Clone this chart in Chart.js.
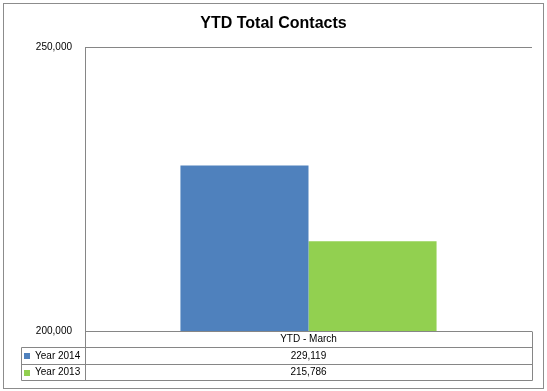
<!DOCTYPE html>
<html>
<head>
<meta charset="utf-8">
<title>YTD Total Contacts</title>
<script src="https://cdn.jsdelivr.net/npm/chart.js@4.4.0/dist/chart.umd.min.js"></script>
<style>
    html, body { margin: 0; padding: 0; background: #fff; }
    #wrap { width: 547px; height: 391px; }
</style>
</head>
<body>
<div id="wrap"><canvas id="contactsChart" width="547" height="391"></canvas></div>
<script>
// ---------- DATA ----------
const categories = ['YTD - March'];
const seriesNames = ['Year 2014', 'Year 2013'];
const year2014 = [229119];
const year2013 = [215786];
const yTicks = [200000, 250000];

const colors = ['#4F81BD', '#92D050'];
const lineColor = '#868686';
const fontFamily = '"Liberation Sans", Arial, sans-serif';

function fmt(v) {
    return Number(v).toLocaleString('en-US');
}

// ---------- FRAME + DATA TABLE ----------
const tablePlugin = {
    id: 'dataTable',
    afterDraw(chart) {
        const ctx = chart.ctx;
        const area = chart.chartArea;
        const left = Math.round(area.left) + 0.5;
        const right = Math.round(area.right) + 0.5;
        const top = Math.round(area.bottom) + 0.5;
        const rowH = [16, 17, 16];
        const legendLeft = 21.5;
        const rows = [top, top + rowH[0], top + rowH[0] + rowH[1], top + rowH[0] + rowH[1] + rowH[2]];
        const allSeries = [year2014, year2013];

        ctx.save();
        // outer chart frame
        ctx.strokeStyle = '#8c8c8c';
        ctx.lineWidth = 1;
        ctx.strokeRect(3.5, 3.5, 540, 385);

        // table grid
        ctx.strokeStyle = lineColor;
        ctx.beginPath();
        for (let i = 1; i < rows.length; i++) {
            ctx.moveTo(legendLeft, rows[i]);
            ctx.lineTo(right, rows[i]);
        }
        ctx.moveTo(left, rows[0]);
        ctx.lineTo(left, rows[3]);
        ctx.moveTo(right, rows[0]);
        ctx.lineTo(right, rows[3]);
        ctx.moveTo(legendLeft, rows[1]);
        ctx.lineTo(legendLeft, rows[3]);
        ctx.stroke();

        // texts
        ctx.fillStyle = '#000';
        ctx.font = '10px ' + fontFamily;
        ctx.textBaseline = 'middle';
        ctx.textAlign = 'center';
        const cx = (area.left + area.right) / 2;
        ctx.fillText(categories[0], cx, (rows[0] + rows[1]) / 2);
        allSeries.forEach((s, i) => {
            const y = (rows[i + 1] + rows[i + 2]) / 2;
            ctx.textAlign = 'center';
            ctx.fillStyle = '#000';
            ctx.fillText(fmt(s[0]), cx, y);
            // legend key
            ctx.fillStyle = colors[i];
            ctx.fillRect(24, Math.round(y) - 3, 6, 6);
            ctx.fillStyle = '#000';
            ctx.textAlign = 'left';
            ctx.fillText(seriesNames[i], 35, y);
        });
        ctx.restore();
    }
};

// ---------- CHART ----------
const ctx = document.getElementById('contactsChart').getContext('2d');
const contactsChart = new Chart(ctx, {
    type: 'bar',
    data: {
        labels: categories,
        datasets: [
            { label: seriesNames[0], data: year2014, backgroundColor: colors[0] },
            { label: seriesNames[1], data: year2013, backgroundColor: colors[1] }
        ]
    },
    options: {
        responsive: false,
        animation: false,
        devicePixelRatio: 1,
        layout: { padding: { left: 15, right: 15, top: 0, bottom: 60 } },
        datasets: {
            bar: { categoryPercentage: 0.573, barPercentage: 1.0 }
        },
        plugins: {
            legend: { display: false },
            tooltip: { enabled: false },
            title: {
                display: true,
                text: 'YTD Total Contacts',
                color: '#000',
                font: { family: fontFamily, size: 16, weight: 'bold', lineHeight: 1.2 },
                padding: { top: 14, bottom: 13.8 }
            }
        },
        scales: {
            x: { display: false },
            y: {
                min: yTicks[0],
                max: yTicks[yTicks.length - 1],
                afterFit(scale) { scale.width = 70; },
                afterBuildTicks(scale) { scale.ticks = yTicks.map(v => ({ value: v })); },
                ticks: {
                    padding: 13,
                    color: '#000',
                    font: { family: fontFamily, size: 10 },
                    callback: v => fmt(v)
                },
                grid: { color: lineColor, drawTicks: false },
                border: { color: lineColor }
            }
        }
    },
    plugins: [tablePlugin]
});
</script>
</body>
</html>
